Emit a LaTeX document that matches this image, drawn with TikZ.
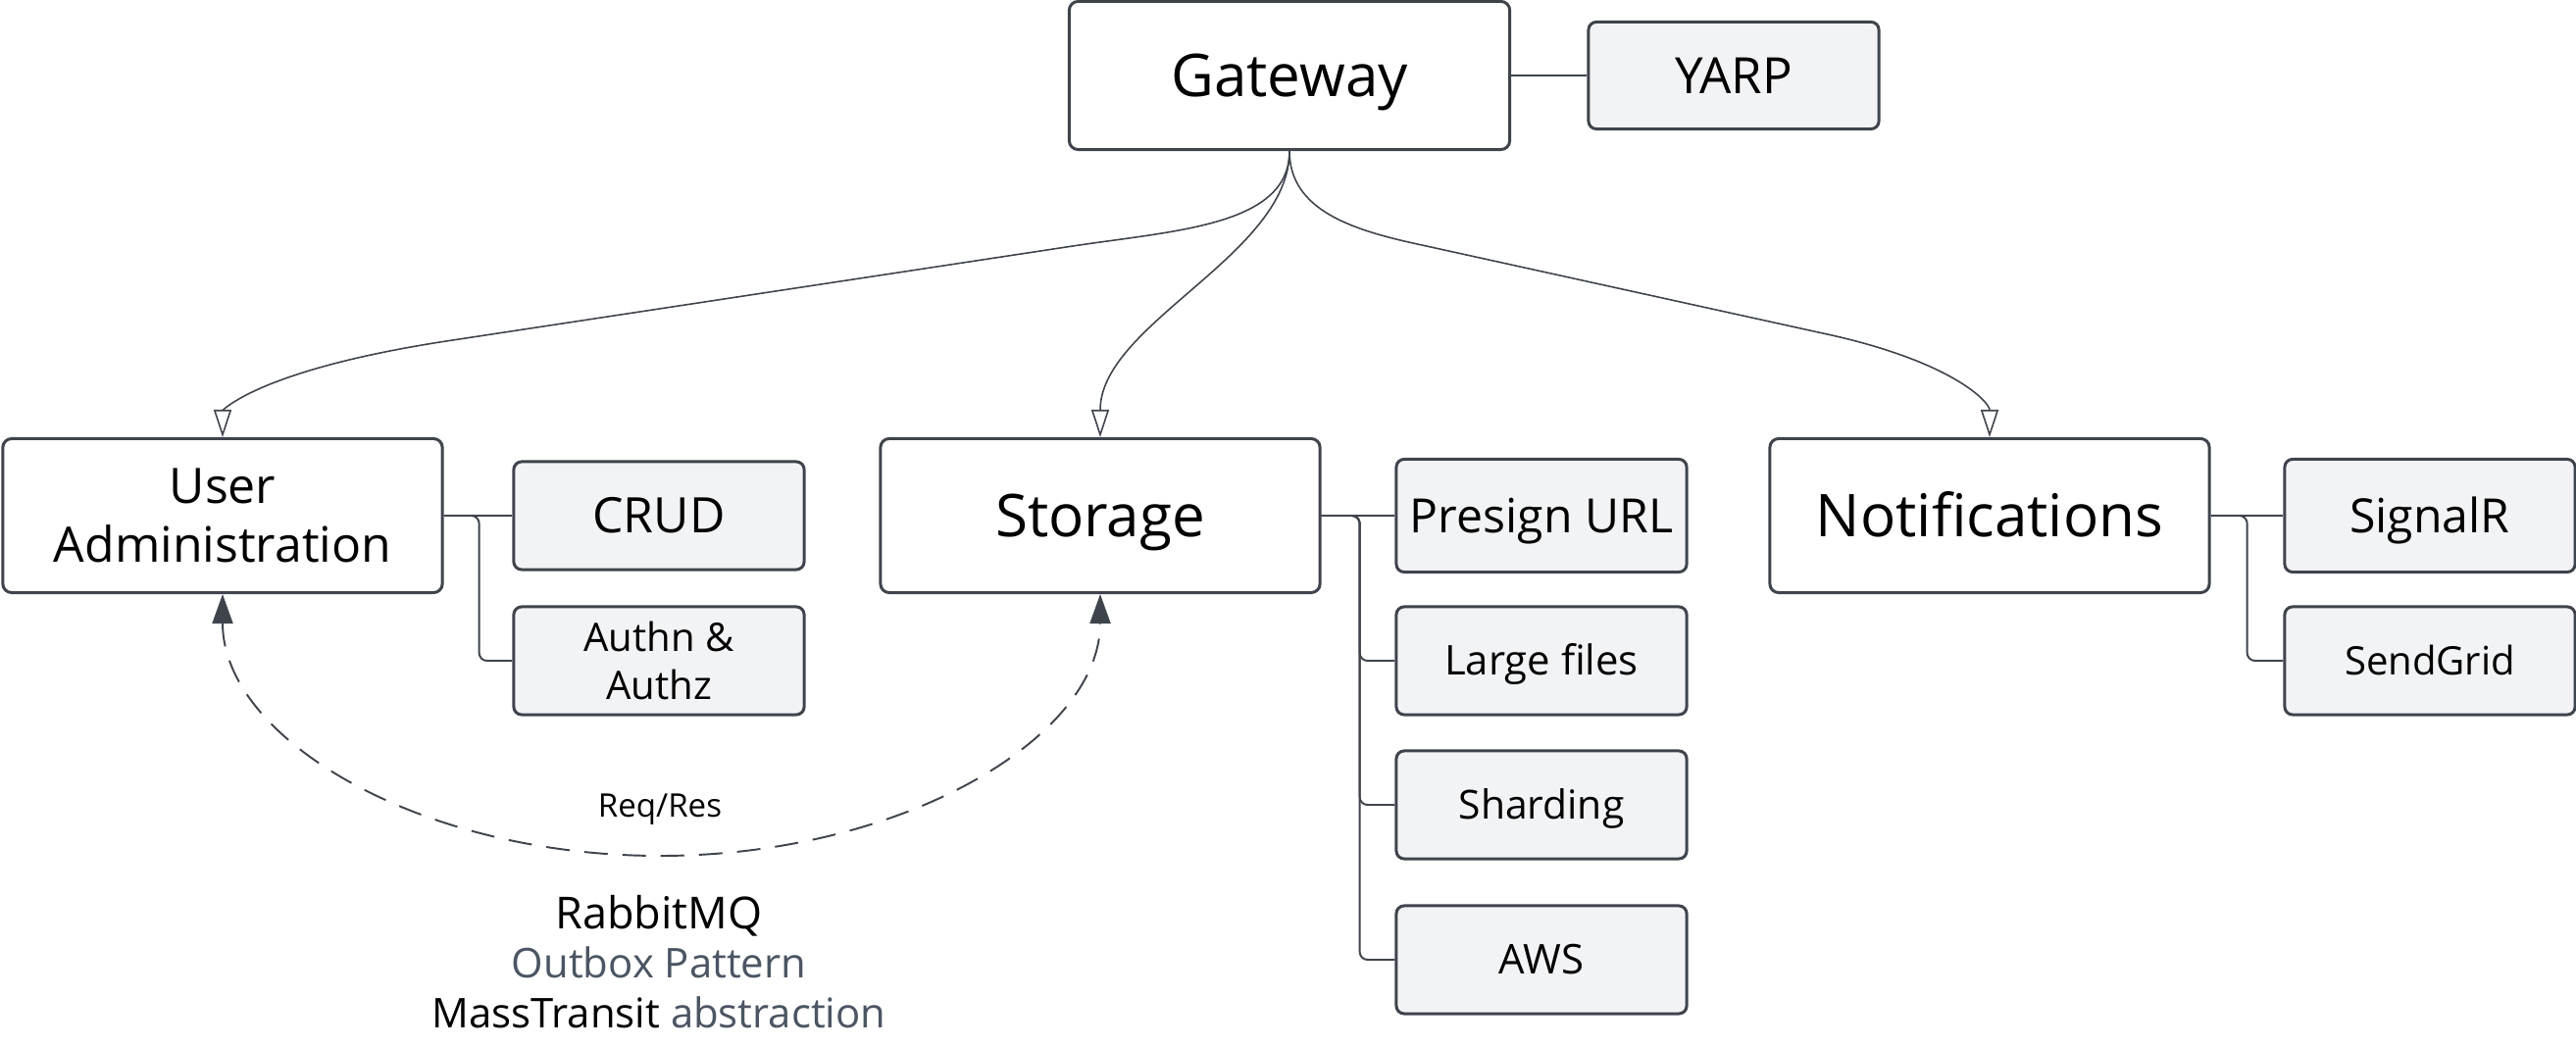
\documentclass[tikz,border=0pt]{standalone}
\usepackage{fontspec}
\setmainfont{Open Sans}
\usepackage{tikz}
\usetikzlibrary{arrows.meta}

\definecolor{linegray}{HTML}{3F444C}
\definecolor{leafgray}{HTML}{F2F3F5}
\definecolor{textgray}{HTML}{4B5563}
% one line of text, centred on its capitals
\newcommand{\capline}[1]{\raisebox{0pt}[\fontcharht\font`H][0pt]{#1}}

\begin{document}
\begin{tikzpicture}[x=0.01cm,y=0.01cm,
  every text node part/.style={align=center},
  hub/.style={draw=linegray,line width=0.85pt,fill=white,rounded corners=0.09cm,
    inner sep=0pt,minimum width=4.48cm,minimum height=1.57cm},
  leaf/.style={draw=linegray,line width=0.85pt,fill=leafgray,rounded corners=0.08cm,
    inner sep=0pt,minimum width=2.96cm,minimum height=1.1cm},
  tree/.style={draw=linegray,line width=0.55pt,rounded corners=0.08cm},
  flow/.style={draw=linegray,line width=0.45pt,-{Triangle[open,length=0.28cm,width=0.18cm]}},
  msg/.style={draw=linegray,line width=0.55pt,dash pattern=on 0.24cm off 0.15cm,
    {Triangle[length=0.3cm,width=0.21cm]}-{Triangle[length=0.3cm,width=0.21cm]}}]
  \useasboundingbox (0,0) rectangle (2627,-1067);

  % gateway
  \node[hub,minimum width=4.49cm,minimum height=1.51cm,font=\fontsize{17.1}{20.5}\selectfont] (gw) at (1315,-77) {\capline{Gateway}};
  \node[leaf,minimum height=1.09cm,font=\fontsize{14.5}{17.4}\selectfont] (yarp) at (1768,-77) {\capline{YARP}};

  % services
  \node[hub,font=\fontsize{14.2}{17.3}\selectfont] (ua) at (227,-526) {User\\Administration};
  \node[hub,font=\fontsize{17.1}{20.5}\selectfont] (st) at (1122,-526) {\capline{Storage}};
  \node[hub,font=\fontsize{17.1}{20.5}\selectfont] (notif) at (2029,-526) {\capline{Notifications}};

  % features
  \node[leaf,font=\fontsize{14.2}{17}\selectfont] (crud) at (672,-526) {\capline{CRUD}};
  \node[leaf,font=\fontsize{11.4}{13.7}\selectfont] (authn) at (672,-674) {Authn \&\\Authz};
  \node[leaf,minimum height=1.15cm,font=\fontsize{13.7}{16.4}\selectfont] (presign) at (1572,-526) {\capline{Presign URL}};
  \node[leaf,font=\fontsize{11.9}{14.3}\selectfont] (large) at (1572,-674) {\capline{Large files}};
  \node[leaf,font=\fontsize{11.6}{14}\selectfont] (shard) at (1572,-821) {\capline{Sharding}};
  \node[leaf,font=\fontsize{11.9}{14.3}\selectfont] (aws) at (1572,-979) {\capline{AWS}};
  \node[leaf,minimum height=1.15cm,font=\fontsize{13.7}{16.4}\selectfont] (signalr) at (2478,-526) {\capline{SignalR}};
  \node[leaf,font=\fontsize{11.4}{13.7}\selectfont] (sendgrid) at (2478,-674) {\capline{SendGrid}};

  \draw[tree] (gw.east) -- (yarp.west);
  \draw[tree] (ua.east) -- (crud.west);
  \draw[tree] (ua.east) -- ++(36,0) |- (authn.west);
  \draw[tree] (st.east) -- (presign.west);
  \foreach \leafname in {large,shard,aws}
    \draw[tree] (st.east) -- ++(39,0) |- (\leafname.west);
  \draw[tree] (notif.east) -- (signalr.west);
  \draw[tree] (notif.east) -- ++(37,0) |- (sendgrid.west);

  % gateway routes
  \draw[flow] (gw.south) .. controls (1315,-230) and (1200,-235) .. (1094,-251)
    -- (455,-348) .. controls (260,-378) and (227,-420) .. (ua.north);
  \draw[flow] (gw.south) .. controls (1315,-260) and (1122,-330) .. (st.north);
  \draw[flow] (gw.south) .. controls (1315,-215) and (1380,-235) .. (1450,-250)
    -- (1859,-340) .. controls (1990,-368) and (2029,-410) .. (notif.north);

  % messaging
  \draw[msg] (ua.south) .. controls (227,-753) and (427,-873) .. (673,-873)
    .. controls (919,-873) and (1122,-753) .. (st.south);
  \node[anchor=base,font=\fontsize{9.4}{11}\selectfont] (reqres) at (673,-833) {Req/Res};
  \node[anchor=base,font=\fontsize{12.8}{15}\selectfont] (mq) at (672,-947) {RabbitMQ};
  \node[anchor=base,text=textgray,font=\fontsize{11.9}{14}\selectfont] (outbox) at (672,-997) {Outbox Pattern};
  \node[anchor=base,font=\fontsize{11.9}{14}\selectfont] (masstransit) at (672,-1048) {MassTransit \textcolor{textgray}{abstraction}};
\end{tikzpicture}
\end{document}
